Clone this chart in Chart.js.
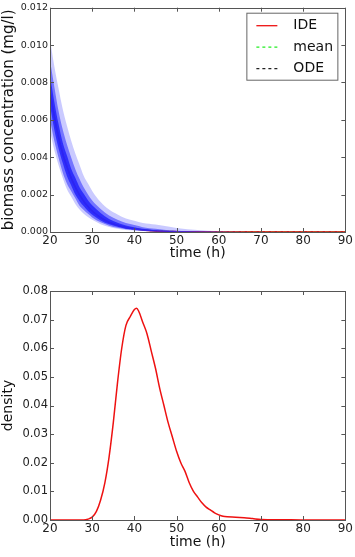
<!DOCTYPE html>
<html>
<head>
<meta charset="utf-8">
<script src="https://cdn.jsdelivr.net/npm/chart.js@4.4.0/dist/chart.umd.min.js"></script>
<style>
  html, body { margin: 0; padding: 0; background: #fff; }
  canvas { display: block; }
</style>
</head>
<body>
<canvas id="biomassChart" width="355" height="262"></canvas>
<canvas id="densityChart" width="355" height="295"></canvas>
<script>
// ---- data ----
const timeGrid = [20, 21, 22, 23, 24, 25, 26, 27, 28, 29, 30, 32, 34, 36, 38, 40, 42, 45, 48, 50, 55, 60, 65, 70, 80, 90];
const ideValues  = [0.0075, 0.0062, 0.0051, 0.0042, 0.0035, 0.0029, 0.0024, 0.00198, 0.00164, 0.00136, 0.00112, 0.00077, 0.00052, 0.00036, 0.00024, 0.00017, 0.00011, 0.00006, 0.00003, 0.00002, 0.000007, 0.000002, 0, 0, 0, 0];
const meanValues = [0.0075, 0.0062, 0.0051, 0.0042, 0.0035, 0.0029, 0.0024, 0.0020, 0.00165, 0.00137, 0.00113, 0.00078, 0.00053, 0.00037, 0.00025, 0.00017, 0.00012, 0.00006, 0.00003, 0.00002, 0.000008, 0.000003, 0.000001, 0, 0, 0];
const odeValues  = [0.0075, 0.0062, 0.0051, 0.0042, 0.0035, 0.0029, 0.0024, 0.00198, 0.00164, 0.00136, 0.00112, 0.00077, 0.00052, 0.00036, 0.00024, 0.00017, 0.00011, 0.00006, 0.00003, 0.00002, 0.000007, 0.000002, 0, 0, 0, 0];
// spread of the simulated trajectories (blue cloud), outer to inner
const cloudOuterUpper = [0.0103, 0.0089, 0.0077, 0.0066, 0.0057, 0.0049, 0.0042, 0.0036, 0.0030, 0.0026, 0.0022, 0.0016, 0.0012, 0.00094, 0.00072, 0.0006, 0.00048, 0.0004, 0.0003, 0.00022, 0.00011, 0.00004, 0.000015, 0, 0, 0];
const cloudOuterLower = [0.0054, 0.0044, 0.0036, 0.0029, 0.0023, 0.0019, 0.0015, 0.0012, 0.00098, 0.0008, 0.00065, 0.00042, 0.00027, 0.00018, 0.00011, 0.00008, 0.00005, 0.00002, 0.00001, 0, 0, 0, 0, 0, 0, 0];
const cloudMidUpper   = [0.0092, 0.0078, 0.0065, 0.0055, 0.0047, 0.0040, 0.00336, 0.00283, 0.00238, 0.00201, 0.00168, 0.00123, 0.00088, 0.00065, 0.00048, 0.00037, 0.00026, 0.00017, 0.0001, 0.00007, 0.00003, 0.00001, 0, 0, 0, 0];
const cloudMidLower   = [0.0060, 0.0049, 0.0040, 0.0032, 0.0026, 0.0022, 0.0018, 0.0014, 0.00118, 0.00097, 0.00078, 0.00052, 0.00034, 0.00023, 0.00015, 0.0001, 0.00006, 0.00003, 0.00001, 0, 0, 0, 0, 0, 0, 0];
const cloudCoreUpper  = [0.0084, 0.0070, 0.0058, 0.0048, 0.0041, 0.0034, 0.0029, 0.0024, 0.00205, 0.0017, 0.00143, 0.00102, 0.0007, 0.0005, 0.00035, 0.00026, 0.00017, 0.0001, 0.00005, 0.00004, 0.000015, 0.000005, 0, 0, 0, 0];
const cloudCoreLower  = [0.0068, 0.0055, 0.0045, 0.0037, 0.0030, 0.0025, 0.0020, 0.00165, 0.00138, 0.00113, 0.00092, 0.00062, 0.00041, 0.00028, 0.00018, 0.00013, 0.00008, 0.00004, 0.00002, 0.00001, 0, 0, 0, 0, 0, 0];

const densityTimes  = [20, 25, 28, 29, 30, 31, 32, 33, 34, 35, 36, 37, 38, 39, 40, 40.5, 41, 42, 43, 44, 45, 46, 47, 48, 49, 50, 51, 52, 53, 54, 55, 56, 57, 58, 59, 60, 61, 62, 64, 66, 68, 70, 75, 80, 90];
const densityValues = [0, 0, 0, 0.0003, 0.001, 0.003, 0.007, 0.013, 0.022, 0.034, 0.048, 0.060, 0.068, 0.071, 0.0735, 0.074, 0.073, 0.069, 0.065, 0.059, 0.053, 0.046, 0.040, 0.034, 0.029, 0.024, 0.020, 0.017, 0.013, 0.010, 0.008, 0.006, 0.0045, 0.0035, 0.0025, 0.0018, 0.0013, 0.0011, 0.001, 0.0008, 0.0005, 0.0002, 0.0001, 0, 0];

const timeTicks    = [20, 30, 40, 50, 60, 70, 80, 90];
const biomassTicks = [0, 0.002, 0.004, 0.006, 0.008, 0.010, 0.012];
const densityTicks = [0, 0.01, 0.02, 0.03, 0.04, 0.05, 0.06, 0.07, 0.08];

const FONT = 'DejaVu Sans';
const pts = (xs, ys) => xs.map((x, i) => ({ x, y: ys[i] }));

// matplotlib-like frame with inward ticks on all sides
const mplFrame = {
  id: 'mplFrame',
  afterDatasetsDraw(chart) {
    const { ctx, chartArea: a, scales } = chart;
    ctx.save();
    ctx.strokeStyle = '#555';
    ctx.lineWidth = 1;
    ctx.beginPath();
    scales.x.ticks.forEach(t => {
      const px = Math.round(scales.x.getPixelForValue(t.value)) + 0.5;
      ctx.moveTo(px, a.bottom); ctx.lineTo(px, a.bottom - 4);
      ctx.moveTo(px, a.top); ctx.lineTo(px, a.top + 4);
    });
    scales.y.ticks.forEach(t => {
      const py = Math.round(scales.y.getPixelForValue(t.value)) + 0.5;
      ctx.moveTo(a.left, py); ctx.lineTo(a.left + 4, py);
      ctx.moveTo(a.right, py); ctx.lineTo(a.right - 4, py);
    });
    ctx.stroke();
    ctx.strokeRect(Math.round(a.left) + 0.5, Math.round(a.top) + 0.5, Math.round(a.right - a.left), Math.round(a.bottom - a.top));
    ctx.restore();
  }
};

// legend box drawn inside the plot, upper right
const insideLegend = {
  id: 'insideLegend',
  afterDraw(chart) {
    const items = chart.data.datasets.filter(d => d.label);
    if (!items.length) return;
    const { ctx, chartArea: a } = chart;
    const bx = a.right - 99, by = a.top + 5, bw = 91, bh = 67;
    ctx.save();
    ctx.fillStyle = '#fff';
    ctx.fillRect(bx, by, bw, bh);
    ctx.strokeStyle = '#666';
    ctx.lineWidth = 1;
    ctx.strokeRect(bx + 0.5, by + 0.5, bw, bh);
    ctx.font = '14px "' + FONT + '"';
    ctx.textBaseline = 'middle';
    items.forEach((d, i) => {
      const y = by + 13 + i * 21.5;
      ctx.strokeStyle = d.borderColor;
      ctx.lineWidth = 1.3;
      ctx.setLineDash(d.borderDash || []);
      ctx.beginPath();
      ctx.moveTo(bx + 10, y); ctx.lineTo(bx + 31, y);
      ctx.stroke();
      ctx.setLineDash([]);
      ctx.fillStyle = '#111';
      ctx.fillText(d.label, bx + 47, y);
    });
    ctx.restore();
  }
};

function axisX(titlePadBottom, height) {
  return {
    type: 'linear', min: 20, max: 90,
    afterBuildTicks: s => { s.ticks = timeTicks.map(v => ({ value: v })); },
    afterFit: s => { s.height = height; },
    grid: { display: false, drawTicks: false },
    border: { display: false },
    ticks: { color: '#222', padding: 2, font: { family: FONT, size: 12 }, maxRotation: 0, callback: v => String(v) },
    title: { display: true, text: 'time (h)', color: '#111', font: { family: FONT, size: 14 }, padding: { top: 0, bottom: titlePadBottom } }
  };
}

function axisY(title, titleSize, max, tickList, decimals, tickSize) {
  return {
    type: 'linear', min: 0, max: max,
    afterBuildTicks: s => { s.ticks = tickList.map(v => ({ value: v })); },
    afterFit: s => { s.width = 50; },
    grid: { display: false, drawTicks: false },
    border: { display: false },
    ticks: { color: '#222', padding: 2, font: { family: FONT, size: tickSize }, callback: v => Number(v).toFixed(decimals) },
    title: { display: true, text: title, color: '#111', font: { family: FONT, size: titleSize }, padding: 0 }
  };
}

const lineBase = { pointRadius: 0, cubicInterpolationMode: 'monotone', fill: false };
const bandEdge = { ...lineBase, borderWidth: 0, borderColor: 'rgba(0,0,0,0)' };

new Chart(document.getElementById('biomassChart'), {
  type: 'line',
  data: {
    datasets: [
      { ...bandEdge, data: pts(timeGrid, cloudOuterUpper), backgroundColor: 'rgba(80,80,255,0.3)', fill: '+1' },
      { ...bandEdge, data: pts(timeGrid, cloudOuterLower) },
      { ...bandEdge, data: pts(timeGrid, cloudMidUpper), backgroundColor: 'rgba(30,30,255,0.55)', fill: '+1' },
      { ...bandEdge, data: pts(timeGrid, cloudMidLower) },
      { ...bandEdge, data: pts(timeGrid, cloudCoreUpper), backgroundColor: 'rgba(0,0,245,0.85)', fill: '+1' },
      { ...bandEdge, data: pts(timeGrid, cloudCoreLower) },
      { ...lineBase, label: 'IDE', data: pts(timeGrid, ideValues), borderColor: '#ee1111', borderWidth: 1.5 },
      { ...lineBase, label: 'mean', data: pts(timeGrid, meanValues), borderColor: '#22ee22', borderWidth: 1.4, borderDash: [3, 3] },
      { ...lineBase, label: 'ODE', data: pts(timeGrid, odeValues), borderColor: '#222', borderWidth: 1.4, borderDash: [3, 3], borderDashOffset: 3 }
    ]
  },
  options: {
    responsive: false,
    animation: false,
    layout: { padding: { top: 4, right: 9, left: 0, bottom: 0 } },
    plugins: { legend: { display: false }, tooltip: { enabled: false } },
    scales: {
      x: axisX(0, 30),
      y: axisY('biomass concentration (mg/l)', 15, 0.012, biomassTicks, 3, 9.5)
    }
  },
  plugins: [mplFrame, insideLegend]
});

new Chart(document.getElementById('densityChart'), {
  type: 'line',
  data: {
    datasets: [
      { ...lineBase, data: pts(densityTimes, densityValues), borderColor: '#ee1111', borderWidth: 1.5 }
    ]
  },
  options: {
    responsive: false,
    animation: false,
    layout: { padding: { top: 29, right: 9, left: 0, bottom: 0 } },
    plugins: { legend: { display: false }, tooltip: { enabled: false } },
    scales: {
      x: axisX(6, 37),
      y: axisY('density', 14, 0.08, densityTicks, 2, 11.5)
    }
  },
  plugins: [mplFrame]
});
</script>
</body>
</html>
